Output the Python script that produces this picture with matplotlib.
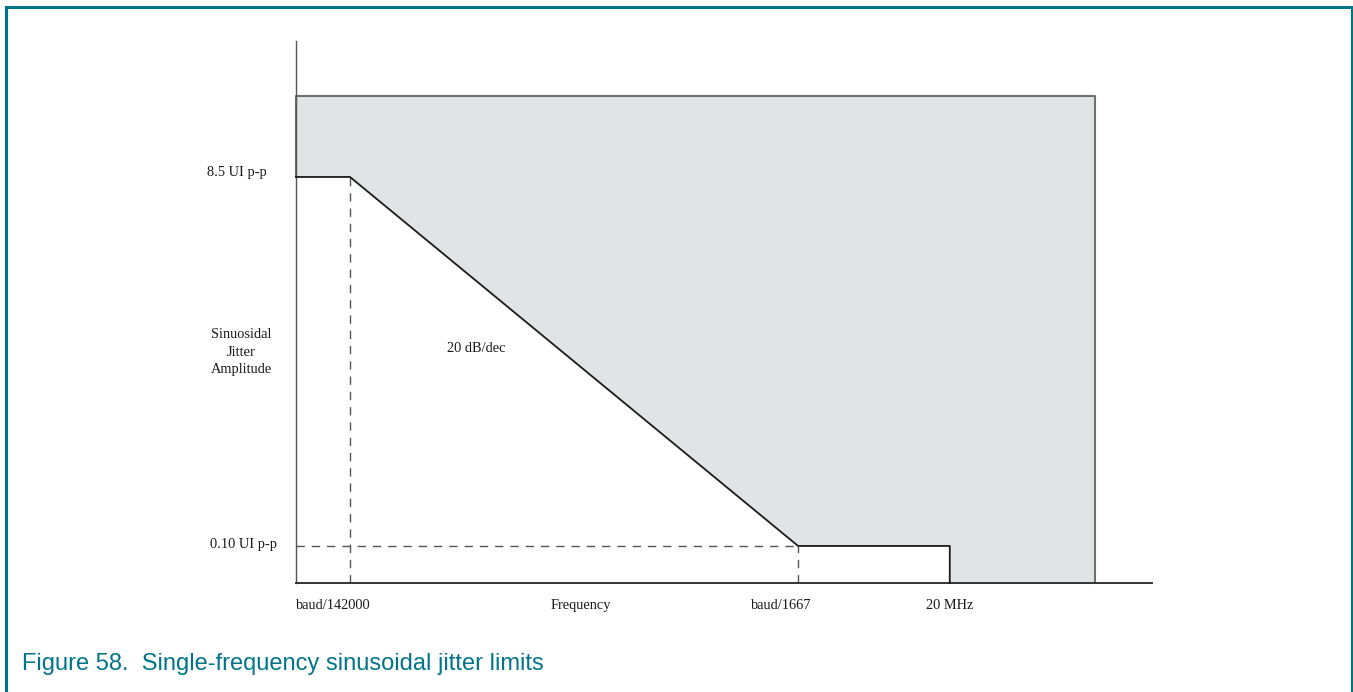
import matplotlib
matplotlib.use("Agg")
import matplotlib.pyplot as plt
from matplotlib.patches import Rectangle
from matplotlib.ticker import NullLocator

# jitter tolerance mask (log-log, schematic)
baud = 7.4e9
f_low = baud / 142000
f_high = baud / 1667
f_20m = 20e6
f_edge = 8.45e7
f_min, f_max = 3.05e4, 1.487e8

amp_high = 8.5
amp_low = 0.10
amp_top = 22.5
amp_min, amp_max = 0.064, 43.7

mask_freq = [f_min, f_low, f_high, f_20m, f_20m]
mask_amp = [amp_high, amp_high, amp_low, amp_low, amp_min]

x_labels = ["baud/142000", "Frequency", "baud/1667", "20 MHz"]
y_labels = ["8.5 UI p-p", "0.10 UI p-p"]

teal = "#007489"
serif = "Liberation Serif"

fig = plt.figure(figsize=(13.53, 6.92), dpi=100)
ax = fig.add_axes([296 / 1353, 1 - 583 / 692, 856 / 1353, 542 / 692])
ax.set_xscale("log")
ax.set_yscale("log")
ax.set_xlim(f_min, f_max)
ax.set_ylim(amp_min, amp_max)
for axis in (ax.xaxis, ax.yaxis):
    axis.set_major_locator(NullLocator())
    axis.set_minor_locator(NullLocator())
ax.spines["top"].set_visible(False)
ax.spines["right"].set_visible(False)
ax.spines["left"].set_color("#555555")
ax.spines["left"].set_linewidth(1.0)
ax.spines["bottom"].set_color("#333333")
ax.spines["bottom"].set_linewidth(1.4)

# shaded region above the mask
poly_f = [f_min, f_edge, f_edge] + mask_freq[::-1]
poly_a = [amp_top, amp_top, amp_min] + mask_amp[::-1]
ax.fill(poly_f, poly_a, color="#e0e4e4", lw=0, zorder=1)
ax.plot([f_min, f_min, f_edge, f_edge], [amp_high, amp_top, amp_top, amp_min],
        color="#707070", lw=1.5, zorder=2, clip_on=False)
ax.plot(mask_freq, mask_amp, color="#1a1a1a", lw=1.3, zorder=3, clip_on=False)

# dashed guides
dash = dict(color="#555555", lw=1.0, linestyle=(0, (6, 5)), zorder=2)
ax.plot([f_low, f_low], [amp_min, amp_high], **dash)
ax.plot([f_min, f_high], [amp_low, amp_low], **dash)
ax.plot([f_high, f_high], [amp_min, amp_low], **dash)

txt = dict(family=serif, fontsize=10.4, color="#1a1a1a", va="center")
xt = ax.get_xaxis_transform()
ax.annotate(x_labels[0], xy=(f_min, 0), xycoords=xt, xytext=(0, -16),
            textcoords="offset points", ha="left", **txt)
ax.text((581 - 296) / 856, -22 / 542, x_labels[1], transform=ax.transAxes,
        ha="center", **txt)
ax.annotate(x_labels[2], xy=(f_high, 0), xycoords=xt, xytext=(-12, -16),
            textcoords="offset points", ha="center", **txt)
ax.annotate(x_labels[3], xy=(f_20m, 0), xycoords=xt, xytext=(0, -16),
            textcoords="offset points", ha="center", **txt)

yt = ax.get_yaxis_transform()
ax.annotate(y_labels[0], xy=(0, amp_high), xycoords=yt, xytext=(-21, 3.0),
            textcoords="offset points", ha="right", **txt)
ax.annotate(y_labels[1], xy=(0, amp_low), xycoords=yt, xytext=(-14, 1.0),
            textcoords="offset points", ha="right", **txt)

fig.text(241 / 1353, 1 - 352 / 692, "Sinuosidal\nJitter\nAmplitude",
         ha="center", linespacing=1.5, **txt)
ax.text((476 - 296) / 856, (583 - 349) / 542, "20 dB/dec",
        transform=ax.transAxes, ha="center", **txt)

# caption and frame
fig.text(22 / 1353, 1 - 664 / 692,
         "Figure 58.  Single-frequency sinusoidal jitter limits",
         family="Liberation Sans", fontsize=17, color=teal, va="center")
fig.add_artist(Rectangle((6 / 1353, -0.1), 1346 / 1353, 1.1 - 7 / 692,
                         transform=fig.transFigure, fill=False,
                         edgecolor=teal, lw=2.2))

fig.savefig("out.png", dpi=100)
